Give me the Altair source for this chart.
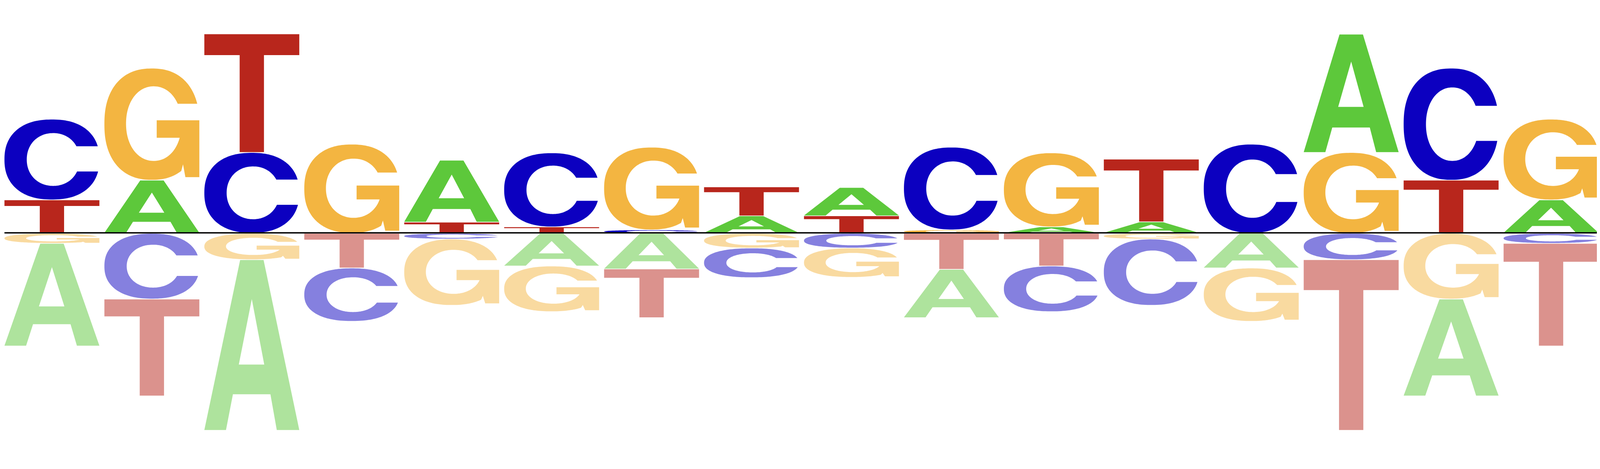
import numpy as np
import pandas as pd
import altair as alt

alt.data_transformers.disable_max_rows()

# ---------------- data ----------------
positions = list(range(1, 17))

# letters above the baseline, listed from the baseline upwards
pos_letters = [["T", "C"], ["A", "G"], ["C", "T"], ["G"], ["T", "A"], ["T", "C"],
               ["C", "G"], ["A", "T"], ["T", "A"], ["G", "C"], ["A", "G"], ["A", "T"],
               ["C"], ["G", "A"], ["T", "C"], ["A", "G"]]
pos_heights = [[0.98, 2.40], [1.57, 3.34], [2.40, 3.54], [2.65], [0.31, 1.84], [0.17, 2.20],
               [0.08, 2.46], [0.50, 0.85], [0.50, 0.83], [0.08, 2.46], [0.17, 2.20], [0.32, 1.86],
               [2.65], [2.40, 3.53], [1.57, 3.34], [0.98, 2.40]]

# letters below the baseline, listed from the baseline downwards
neg_letters = [["G", "A"], ["C", "T"], ["G", "A"], ["T", "C"], ["C", "G"], ["A", "G"],
               ["A", "T"], ["G", "C"], ["C", "G"], ["T", "A"], ["T", "C"], ["G", "C"],
               ["A", "G"], ["C", "T"], ["G", "A"], ["C", "T"]]
neg_heights = [[0.28, 3.06], [1.95, 2.89], [0.77, 5.10], [1.02, 1.58], [0.15, 1.97], [0.96, 1.35],
               [1.05, 1.44], [0.42, 0.87], [0.42, 0.86], [1.06, 1.43], [0.96, 1.35], [0.15, 1.97],
               [1.02, 1.58], [0.77, 5.10], [1.95, 2.89], [0.28, 3.06]]

color_keys = ["A+", "C+", "G+", "T+", "A-", "C-", "G-", "T-"]
color_vals = ["#5DC83B", "#0C00C0", "#F3B541", "#B8261C",
              "#AEE39D", "#8580DF", "#F9DAA0", "#DB928D"]

# ---------------- style constants ----------------
LETTER_W = 0.95     # letter width in position units
GAP = 0.02          # vertical gap between stacked letters
NEG_START = 0.025   # offset of the lower stack from the baseline


# ---------------- glyph outlines in a unit box ----------------
def se(cx, cy, a, b, t, n):
    c, s = np.cos(t), np.sin(t)
    return (cx + a * np.sign(c) * np.abs(c) ** (2.0 / n),
            cy + b * np.sign(s) * np.abs(s) ** (2.0 / n))


def glyph_C():
    n_out = 2.3
    tu = np.arcsin(((0.665 - 0.5) / 0.5) ** (n_out / 2))
    tl = 2 * np.pi - np.arcsin(((0.5 - 0.35) / 0.5) ** (n_out / 2))
    ox, oy = se(0.5, 0.5, 0.5, 0.5, np.linspace(tu, tl, 160), n_out)
    n_in = 2.1
    cx, cy, a, b = 0.513, 0.5, 0.278, 0.33
    ti0 = -np.arcsin(((cy - 0.35) / b) ** (n_in / 2))
    ti1 = np.arcsin(((0.665 - cy) / b) ** (n_in / 2)) - 2 * np.pi
    ix, iy = se(cx, cy, a, b, np.linspace(ti0, ti1, 120), n_in)
    return np.concatenate([ox, ix]), np.concatenate([oy, iy])


def glyph_G():
    n_out = 2.3
    tu = np.arcsin(((0.683 - 0.5) / 0.5) ** (n_out / 2))
    te = 2 * np.pi - np.arccos(((0.81 - 0.5) / 0.5) ** (n_out / 2))
    ox, oy = se(0.5, 0.5, 0.5, 0.5, np.linspace(tu, te, 160), n_out)
    mid_x = [0.828, 0.853, 1.0, 1.0, 0.551, 0.551]
    mid_y = [0.139, 0.024, 0.024, 0.535, 0.535, 0.378]
    n_in = 2.1
    cx, cy, a, b = 0.52, 0.505, 0.292, 0.335
    ti0 = -np.arcsin(((cy - 0.378) / b) ** (n_in / 2))
    ti1 = np.arcsin(((0.683 - cy) / b) ** (n_in / 2)) - 2 * np.pi
    ix, iy = se(cx, cy, a, b, np.linspace(ti0, ti1, 120), n_in)
    return (np.concatenate([ox, mid_x, ix]), np.concatenate([oy, mid_y, iy]))


def glyph_T():
    x = [0, 1, 1, 0.628, 0.628, 0.372, 0.372, 0]
    y = [1, 1, 0.823, 0.823, 0, 0, 0.823, 0.823]
    return np.array(x, float), np.array(y, float)


def glyph_A():
    pts = [(0, 0), (0.228, 0), (0.301, 0.21), (0.696, 0.21), (0.763, 0), (1, 0),
           (0.624, 1), (0.5, 1), (0.5, 0.77), (0.631, 0.385), (0.363, 0.385),
           (0.5, 0.77), (0.5, 1), (0.377, 1)]
    return np.array([p[0] for p in pts], float), np.array([p[1] for p in pts], float)


GLYPHS = {"A": glyph_A(), "C": glyph_C(), "G": glyph_G(), "T": glyph_T()}

# ---------------- build the table ----------------
frames = []
gid = 0


def add(letter, sign, pos, ybottom, h):
    global gid
    u, v = GLYPHS[letter]
    frames.append(pd.DataFrame({
        "gid": gid,
        "ord": np.arange(len(u)),
        "x": pos - LETTER_W / 2 + u * LETTER_W,
        "y": ybottom + v * h,
        "key": letter + sign,
    }))
    gid += 1


for i, p in enumerate(positions):
    y0 = 0.0
    for L, h in zip(pos_letters[i], pos_heights[i]):
        add(L, "+", p, y0, h)
        y0 += h + GAP
    y0 = -NEG_START
    for L, h in zip(neg_letters[i], neg_heights[i]):
        add(L, "-", p, y0 - h, h)
        y0 -= h + GAP

df = pd.DataFrame(pd.concat(frames, ignore_index=True))

base_df = pd.DataFrame({"x0": [min(positions) - LETTER_W / 2],
                        "x1": [max(positions) + 0.6], "y": [0.0]})

xs = alt.Scale(domain=[0.5117, 0.5117 + 4784 / 300], nice=False, zero=False)
ys = alt.Scale(domain=[5.87 - 11.84, 5.87], nice=False, zero=False)

letters = alt.Chart(df).mark_line(filled=True, strokeWidth=0).encode(
    x=alt.X("x:Q", scale=xs, axis=None),
    y=alt.Y("y:Q", scale=ys, axis=None),
    detail="gid:N",
    order="ord:Q",
    color=alt.Color("key:N", scale=alt.Scale(domain=color_keys, range=color_vals), legend=None),
)

baseline = alt.Chart(base_df).mark_rule(color="black", strokeWidth=4).encode(
    x=alt.X("x0:Q", scale=xs, axis=None),
    x2="x1:Q",
    y=alt.Y("y:Q", scale=ys, axis=None),
)

chart = alt.layer(letters, baseline).properties(
    width=4784, height=1184, padding=0, autosize="none", background="white"
).configure_view(stroke=None)

chart.save("out.html", embed_options={"renderer": "svg", "actions": False})
